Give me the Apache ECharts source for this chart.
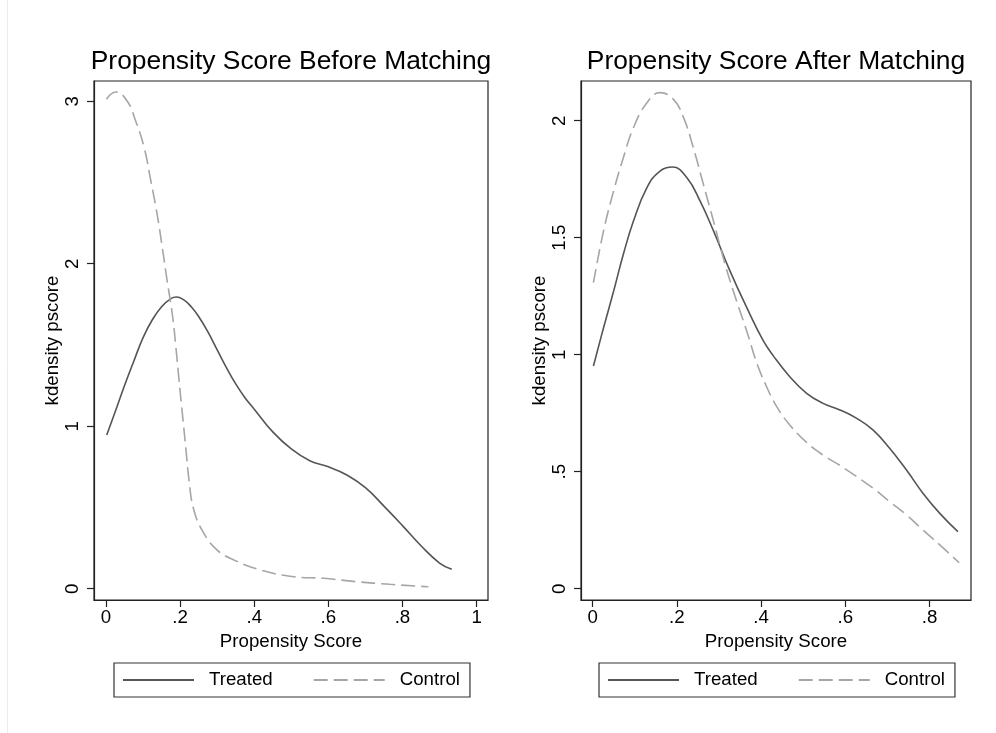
<!DOCTYPE html>
<html>
<head>
<meta charset="utf-8">
<script src="https://cdn.jsdelivr.net/npm/echarts@6/dist/echarts.min.js"></script>
<style>
html,body{margin:0;padding:0;background:#fff;}
#chart{width:996px;height:733px;}
</style>
</head>
<body>
<div id="chart"></div>
<script>
// ---- data (x = propensity score, y = kernel density) ----
const beforeTreated = [
  [0.002,0.946],[0.025,1.090],[0.050,1.250],[0.075,1.400],[0.100,1.545],[0.125,1.655],
  [0.150,1.735],[0.175,1.785],[0.190,1.795],[0.210,1.777],[0.230,1.735],[0.250,1.675],
  [0.275,1.580],[0.300,1.470],[0.325,1.360],[0.350,1.260],[0.375,1.175],[0.400,1.105],
  [0.450,0.965],[0.500,0.860],[0.550,0.787],[0.600,0.750],[0.650,0.700],[0.700,0.622],
  [0.750,0.508],[0.800,0.388],[0.850,0.264],[0.900,0.158],[0.933,0.119]
];
const beforeControl = [
  [0.001,3.012],[0.026,3.057],[0.057,3.001],[0.080,2.878],[0.103,2.714],[0.121,2.509],
  [0.138,2.304],[0.152,2.098],[0.165,1.894],[0.179,1.689],[0.188,1.500],[0.197,1.284],
  [0.206,1.079],[0.215,0.874],[0.224,0.669],[0.237,0.484],[0.264,0.341],[0.300,0.238],
  [0.345,0.177],[0.417,0.115],[0.507,0.074],[0.586,0.064],[0.676,0.043],[0.766,0.027],
  [0.870,0.012]
];
const afterTreated = [
  [0.002,0.952],[0.026,1.115],[0.050,1.272],[0.073,1.429],[0.097,1.571],[0.129,1.714],
  [0.160,1.785],[0.190,1.802],[0.224,1.756],[0.255,1.657],[0.287,1.529],[0.326,1.358],
  [0.366,1.201],[0.405,1.060],[0.429,0.995],[0.468,0.906],[0.508,0.835],[0.547,0.792],
  [0.587,0.764],[0.627,0.728],[0.666,0.678],[0.705,0.600],[0.745,0.507],[0.784,0.408],
  [0.824,0.322],[0.867,0.244]
];
const afterControl = [
  [0.002,1.308],[0.026,1.529],[0.050,1.700],[0.073,1.842],[0.097,1.970],[0.129,2.077],
  [0.160,2.120],[0.192,2.091],[0.216,2.013],[0.239,1.885],[0.263,1.728],[0.287,1.571],
  [0.310,1.415],[0.334,1.272],[0.366,1.100],[0.390,0.963],[0.413,0.863],[0.437,0.778],
  [0.468,0.700],[0.508,0.625],[0.547,0.571],[0.587,0.527],[0.627,0.479],[0.666,0.429],
  [0.705,0.372],[0.745,0.315],[0.784,0.251],[0.824,0.187],[0.870,0.111]
];
const seriesNames = ['Treated','Control'];
const panelTitles = ['Propensity Score Before Matching','Propensity Score After Matching'];
const xTicksLeft = [0,0.2,0.4,0.6,0.8,1];
const yTicksLeft = [0,1,2,3];
const xTicksRight = [0,0.2,0.4,0.6,0.8];
const yTicksRight = [0,0.5,1,1.5,2];
const xAxisTitle = 'Propensity Score';
const yAxisTitle = 'kdensity pscore';

// ---- styling ----
const FONT = '"Liberation Sans", Arial, sans-serif';
const FS = 18.7;
const fmt = v => (v === 0 ? '0' : String(v).replace(/^0\./, '.'));

function xAxisFor(gridIndex, min, max, ticks) {
  return {
    type:'value', gridIndex, min, max,
    name:xAxisTitle, nameLocation:'middle', nameGap:29,
    nameTextStyle:{fontSize:FS, color:'#000', fontFamily:FONT},
    axisLine:{show:true, onZero:false, lineStyle:{color:'#222', width:1.2}},
    axisTick:{show:true, length:7, customValues:ticks, lineStyle:{color:'#222', width:1.2}},
    axisLabel:{customValues:ticks, formatter:fmt, margin:8, fontSize:FS, color:'#000', fontFamily:FONT},
    splitLine:{show:false}
  };
}
function yAxisFor(gridIndex, min, max, ticks) {
  return {
    type:'value', gridIndex, min, max,
    name:yAxisTitle, nameLocation:'middle', nameGap:25, nameRotate:90,
    nameTextStyle:{fontSize:FS, color:'#000', fontFamily:FONT},
    axisLine:{show:true, onZero:false, lineStyle:{color:'#222', width:1.2}},
    axisTick:{show:true, length:7, customValues:ticks, lineStyle:{color:'#222', width:1.2}},
    axisLabel:{customValues:ticks, formatter:fmt, rotate:90, margin:12, fontSize:FS, color:'#000', fontFamily:FONT},
    splitLine:{show:false}
  };
}
const treatedStyle = {color:'#555555', width:1.6, type:'solid'};
const controlStyle = {color:'#a6a6a6', width:1.6, type:[14,6]};
function line(name, data, gi, style) {
  return {
    name, type:'line', data, xAxisIndex:gi, yAxisIndex:gi,
    smooth:0.45, symbol:'none', showSymbol:false,
    lineStyle:style, itemStyle:{color:style.color},
    emphasis:{disabled:true}, animation:false
  };
}
function legendAt(left) {
  return {
    left, top:663, orient:'horizontal', data:seriesNames,
    itemWidth:71, itemHeight:14, itemGap:40,
    padding:[7,10,7,8],
    borderColor:'#333', borderWidth:1.2, backgroundColor:'#fff',
    selectedMode:false,
    itemStyle:{opacity:0, color:'rgba(0,0,0,0)', borderWidth:0},
    textStyle:{fontSize:FS, color:'#000', fontFamily:FONT, lineHeight:20, padding:[0,0,0,10]}
  };
}

const chart = echarts.init(document.getElementById('chart'), null, {renderer:'canvas'});
chart.setOption({
  backgroundColor:'#fff',
  animation:false,
  title:[
    {text:panelTitles[0], left:291, top:49, padding:0, textAlign:'center',
     textStyle:{fontSize:26.4, fontWeight:'normal', color:'#000', fontFamily:FONT}},
    {text:panelTitles[1], left:776, top:49, padding:0, textAlign:'center',
     textStyle:{fontSize:26.4, fontWeight:'normal', color:'#000', fontFamily:FONT}}
  ],
  grid:[
    {left:94, top:81, width:394, height:519, show:true, borderColor:'#222', borderWidth:1.2, backgroundColor:'#fff'},
    {left:581, top:81, width:390, height:519, show:true, borderColor:'#222', borderWidth:1.2, backgroundColor:'#fff'}
  ],
  xAxis:[
    xAxisFor(0, -0.0324, 1.0308, xTicksLeft),
    xAxisFor(1, -0.0275, 0.8981, xTicksRight)
  ],
  yAxis:[
    yAxisFor(0, -0.0695, 3.1243, yTicksLeft),
    yAxisFor(1, -0.0483, 2.1697, yTicksRight)
  ],
  legend:[legendAt(114), legendAt(599)],
  graphic:[
    {type:'line', shape:{x1:7.5, y1:0, x2:7.5, y2:733}, style:{stroke:'#ececec', lineWidth:1}, silent:true}
  ],
  series:[
    line(seriesNames[0], beforeTreated, 0, treatedStyle),
    line(seriesNames[1], beforeControl, 0, controlStyle),
    line(seriesNames[0], afterTreated, 1, treatedStyle),
    line(seriesNames[1], afterControl, 1, controlStyle)
  ]
});
</script>
</body>
</html>
